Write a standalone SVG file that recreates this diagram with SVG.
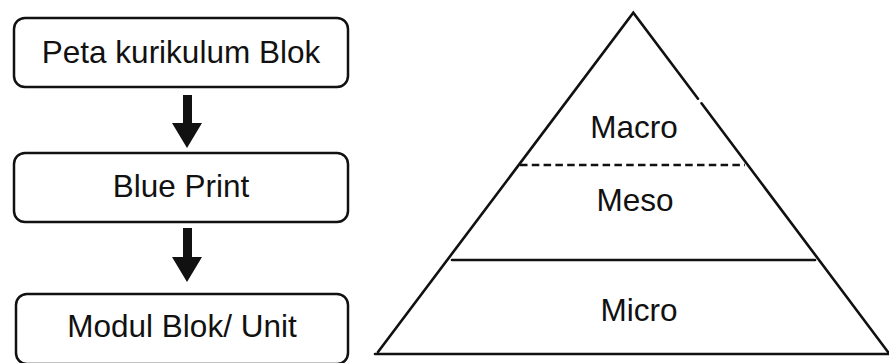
<svg xmlns="http://www.w3.org/2000/svg" width="889" height="363" viewBox="0 0 889 363">
<style>
.box{fill:#fff;stroke:#111;stroke-width:2.5}
.lbl{font-family:"Liberation Sans",Arial,sans-serif;font-size:31.5px;fill:#111;text-anchor:middle}
.edge{stroke:#111;stroke-width:2.6;fill:none;stroke-linecap:round}
.arrow{fill:#111}
</style>
<rect width="889" height="363" fill="#fff"/>
<g id="node-peta">
<rect class="box" x="14" y="18" width="334" height="69" rx="11"/>
<text class="lbl" x="181" y="63">Peta kurikulum Blok</text>
</g>
<g id="node-blueprint">
<rect class="box" x="14" y="153" width="334" height="69" rx="11"/>
<text class="lbl" x="181" y="197">Blue Print</text>
</g>
<g id="node-modul">
<rect class="box" x="16" y="294" width="332" height="70" rx="11"/>
<text class="lbl" x="182" y="337">Modul Blok/ Unit</text>
</g>
<g id="connectors">
<path class="arrow" d="M183,95 H192 V123 H202 L187,148 L172,123 H183 Z"/>
<path class="arrow" d="M183,228 H192 V257 H202 L187,282 L172,257 H183 Z"/>
</g>
<g id="pyramid">
<path class="edge" d="M378,352 L633.3,12.7 L698,98.7"/>
<path class="edge" d="M701.5,103.3 L888,352"/>
<line class="edge" x1="375" y1="354" x2="889" y2="354"/>
<line x1="520" y1="165" x2="745" y2="165" stroke="#111" stroke-width="2.6" stroke-dasharray="7.5,4.3"/>
<line class="edge" x1="452" y1="260" x2="815" y2="260"/>
</g>
<g id="node-macro"><text class="lbl" x="634" y="138">Macro</text></g>
<g id="node-meso"><text class="lbl" x="635" y="211">Meso</text></g>
<g id="node-micro"><text class="lbl" x="639" y="321">Micro</text></g>
</svg>
